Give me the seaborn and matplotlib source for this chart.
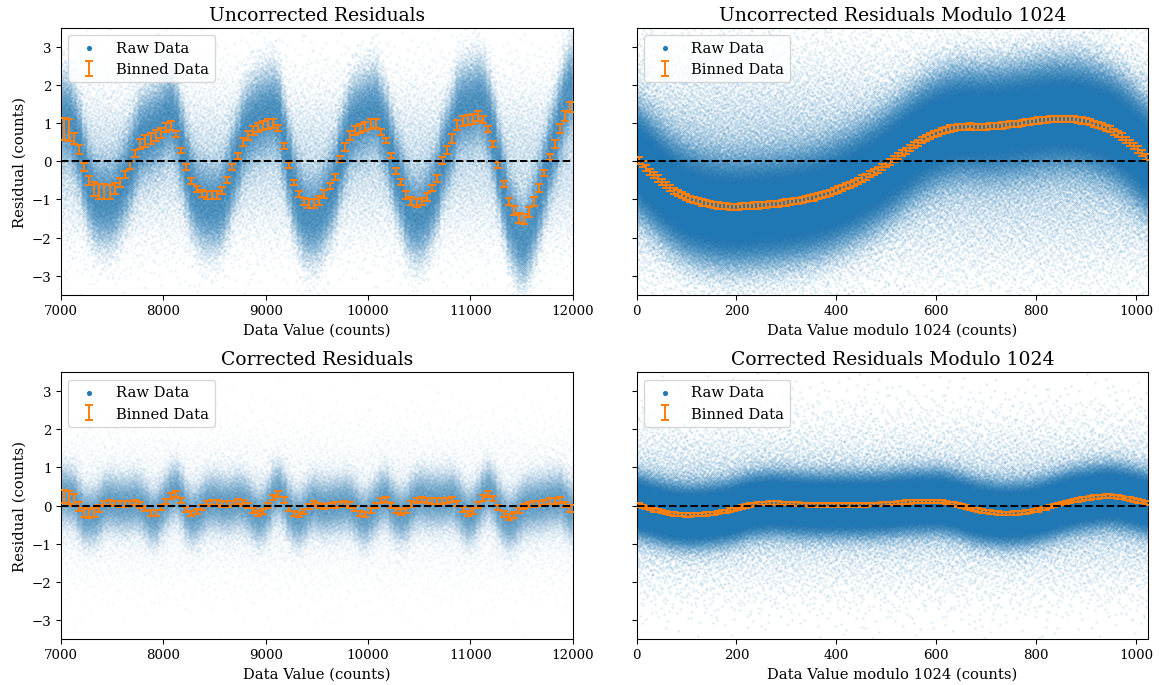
import numpy as np
import matplotlib
matplotlib.use("Agg")
import matplotlib.pyplot as plt
import seaborn as sns

# ---- binned residuals ----
# data value panels: 100 bins of 50 counts between 7000 and 12000
lin_lo, lin_hi, lin_width = 7000, 12000, 50
# modulo panels: 128 bins of 8 counts between 0 and 1024
mod_lo, mod_hi, mod_width = 0, 1024, 8

uncorr_mean = [
    0.85, 0.82, 0.60, 0.30, -0.15, -0.50, -0.72, -0.80, -0.80, -0.80,
    -0.72, -0.55, -0.35, -0.10, 0.20, 0.45, 0.53, 0.60, 0.67, 0.75,
    0.88, 0.93, 0.72, 0.29, -0.15, -0.52, -0.72, -0.84, -0.88, -0.89,
    -0.88, -0.76, -0.50, -0.15, 0.15, 0.50, 0.68, 0.80, 0.88, 0.93,
    0.98, 1.00, 0.88, 0.40, -0.10, -0.55, -0.85, -1.05, -1.10, -1.10,
    -1.02, -0.85, -0.65, -0.40, 0.05, 0.38, 0.68, 0.80, 0.87, 0.92,
    0.98, 1.00, 0.78, 0.55, 0.15, -0.25, -0.55, -0.88, -1.04, -1.10,
    -1.05, -0.93, -0.70, -0.45, 0.02, 0.30, 0.60, 0.95, 1.05, 1.08,
    1.12, 1.18, 1.10, 0.85, 0.45, -0.10, -0.60, -1.05, -1.28, -1.48,
    -1.52, -1.32, -1.05, -0.70, -0.30, 0.12, 0.45, 0.85, 1.20, 1.42]
uncorr_err = [
    0.28, 0.28, 0.15, 0.12, 0.10, 0.12, 0.18, 0.20, 0.20, 0.18,
    0.15, 0.12, 0.10, 0.10, 0.10, 0.14, 0.15, 0.15, 0.14, 0.13,
    0.12, 0.12, 0.07, 0.07, 0.07, 0.08, 0.08, 0.10, 0.10, 0.10,
    0.10, 0.09, 0.08, 0.07, 0.08, 0.10, 0.12, 0.12, 0.12, 0.12,
    0.12, 0.12, 0.08, 0.07, 0.07, 0.07, 0.08, 0.10, 0.12, 0.12,
    0.12, 0.10, 0.08, 0.08, 0.08, 0.10, 0.12, 0.12, 0.12, 0.12,
    0.12, 0.12, 0.08, 0.07, 0.07, 0.07, 0.08, 0.10, 0.10, 0.10,
    0.10, 0.10, 0.08, 0.08, 0.08, 0.10, 0.12, 0.13, 0.13, 0.13,
    0.13, 0.13, 0.10, 0.07, 0.07, 0.07, 0.08, 0.10, 0.12, 0.13,
    0.13, 0.13, 0.12, 0.10, 0.08, 0.08, 0.10, 0.12, 0.13, 0.13]

corr_mean = [
    0.23, 0.20, 0.15, -0.03, -0.19, -0.20, -0.18, -0.08, 0.05, 0.08,
    0.06, 0.04, 0.04, 0.05, 0.08, 0.02, -0.08, -0.20, -0.20, -0.05,
    0.10, 0.25, 0.30, 0.14, -0.10, -0.20, -0.15, -0.05, 0.06, 0.08,
    0.08, 0.04, 0.04, 0.06, 0.10, 0.07, 0.00, -0.12, -0.20, -0.15,
    0.00, 0.22, 0.30, 0.15, -0.07, -0.20, -0.24, -0.15, -0.02, 0.05,
    0.00, -0.02, 0.00, 0.02, 0.03, 0.06, 0.02, -0.08, -0.20, -0.23,
    -0.12, 0.00, 0.13, 0.16, 0.00, -0.12, -0.17, -0.12, 0.04, 0.14,
    0.16, 0.13, 0.12, 0.12, 0.12, 0.14, 0.16, 0.05, -0.10, -0.20,
    -0.14, 0.02, 0.20, 0.30, 0.18, -0.05, -0.22, -0.30, -0.25, -0.12,
    -0.02, 0.03, 0.04, 0.06, 0.08, 0.12, 0.12, 0.15, 0.03, -0.08]
corr_err = [
    0.17, 0.17, 0.15, 0.12, 0.12, 0.12, 0.12, 0.10, 0.07, 0.07,
    0.07, 0.07, 0.07, 0.07, 0.07, 0.07, 0.07, 0.08, 0.08, 0.07,
    0.07, 0.07, 0.07, 0.07, 0.07, 0.07, 0.07, 0.07, 0.07, 0.07,
    0.07, 0.07, 0.07, 0.07, 0.07, 0.07, 0.07, 0.07, 0.07, 0.07,
    0.07, 0.07, 0.07, 0.07, 0.07, 0.07, 0.07, 0.07, 0.07, 0.07,
    0.07, 0.07, 0.07, 0.07, 0.07, 0.07, 0.07, 0.07, 0.07, 0.07,
    0.07, 0.07, 0.07, 0.07, 0.07, 0.07, 0.07, 0.07, 0.07, 0.07,
    0.07, 0.07, 0.07, 0.07, 0.07, 0.07, 0.07, 0.07, 0.07, 0.07,
    0.07, 0.07, 0.07, 0.07, 0.07, 0.07, 0.07, 0.07, 0.07, 0.07,
    0.07, 0.07, 0.07, 0.07, 0.07, 0.07, 0.07, 0.07, 0.07, 0.09]

uncorr_mod_mean = [
    0.02, -0.08, -0.17, -0.27, -0.36, -0.45, -0.54, -0.62,
    -0.70, -0.77, -0.83, -0.89, -0.94, -0.98, -1.02, -1.05,
    -1.08, -1.10, -1.12, -1.14, -1.16, -1.17, -1.18, -1.19,
    -1.19, -1.19, -1.18, -1.18, -1.17, -1.16, -1.16, -1.15,
    -1.14, -1.13, -1.12, -1.11, -1.10, -1.08, -1.07, -1.05,
    -1.04, -1.02, -1.00, -0.97, -0.95, -0.92, -0.89, -0.86,
    -0.82, -0.78, -0.74, -0.70, -0.65, -0.61, -0.56, -0.51,
    -0.45, -0.40, -0.34, -0.28, -0.22, -0.15, -0.08, -0.01,
    0.06, 0.13, 0.21, 0.28, 0.35, 0.42, 0.49, 0.55,
    0.61, 0.66, 0.71, 0.75, 0.79, 0.83, 0.86, 0.88,
    0.90, 0.91, 0.91, 0.92, 0.91, 0.91, 0.90, 0.91,
    0.92, 0.92, 0.93, 0.94, 0.95, 0.97, 0.98, 0.99,
    1.01, 1.02, 1.04, 1.05, 1.07, 1.08, 1.09, 1.10,
    1.11, 1.11, 1.11, 1.11, 1.10, 1.10, 1.09, 1.07,
    1.05, 1.02, 0.99, 0.96, 0.92, 0.88, 0.84, 0.78,
    0.72, 0.65, 0.57, 0.49, 0.40, 0.31, 0.22, 0.12]
uncorr_mod_err = 0.08

corr_mod_mean = [
    0.01, -0.02, -0.05, -0.08, -0.11, -0.13, -0.16, -0.18,
    -0.20, -0.22, -0.23, -0.24, -0.25, -0.25, -0.24, -0.24,
    -0.23, -0.22, -0.21, -0.20, -0.18, -0.16, -0.15, -0.12,
    -0.10, -0.07, -0.04, -0.01, 0.01, 0.03, 0.04, 0.05,
    0.06, 0.07, 0.07, 0.07, 0.06, 0.05, 0.05, 0.04,
    0.04, 0.03, 0.03, 0.02, 0.02, 0.02, 0.02, 0.02,
    0.02, 0.02, 0.02, 0.02, 0.02, 0.02, 0.02, 0.02,
    0.02, 0.02, 0.03, 0.03, 0.03, 0.04, 0.04, 0.05,
    0.06, 0.07, 0.08, 0.09, 0.09, 0.10, 0.10, 0.11,
    0.11, 0.11, 0.11, 0.11, 0.10, 0.08, 0.06, 0.04,
    0.02, -0.01, -0.04, -0.07, -0.10, -0.12, -0.14, -0.16,
    -0.17, -0.18, -0.19, -0.20, -0.20, -0.20, -0.19, -0.19,
    -0.18, -0.17, -0.15, -0.13, -0.11, -0.08, -0.06, -0.03,
    0.00, 0.03, 0.06, 0.08, 0.11, 0.13, 0.15, 0.17,
    0.19, 0.20, 0.22, 0.23, 0.24, 0.25, 0.25, 0.24,
    0.23, 0.21, 0.19, 0.17, 0.15, 0.12, 0.10, 0.07]
corr_mod_err = 0.045

# raw cloud as read: count, share in the core band, core offset, core and halo spread
cloud_uncorr = (120000, 0.78, 1.35, 0.62, 1.10)
cloud_uncorr_mod = (300000, 0.88, 1.12, 0.70, 1.50)
cloud_corr = (90000, 0.85, 1.30, 0.40, 0.95)
cloud_corr_mod = (250000, 0.90, 1.10, 0.38, 1.10)

titles = ["Uncorrected Residuals", "Uncorrected Residuals Modulo 1024",
          "Corrected Residuals", "Corrected Residuals Modulo 1024"]
xlabels = ["Data Value (counts)", "Data Value modulo 1024 (counts)"]


def normal_quantile(u):
    grid = np.linspace(-5, 5, 4001)
    cdf = np.cumsum(np.exp(-grid ** 2 / 2))
    cdf /= cdf[-1]
    return np.interp(u, cdf, grid)


def halton(j, base):
    out = np.zeros(len(j))
    f = 1.0 / base
    i = j.copy()
    while np.any(i > 0):
        out += f * (i % base)
        i //= base
        f /= base
    return out


def raw_cloud(mean, lo, hi, width, params):
    # deterministic (Halton) fill of the band seen in each bin
    n, share, offset, core_sd, halo_sd = params
    mean = np.asarray(mean)
    j = np.arange(1, n + 1)
    px = halton(j, 2)
    pu = halton(j, 3)
    pw = halton(j, 5)
    x = lo + (hi - lo) * px
    b = np.minimum(((x - lo) / width).astype(int), len(mean) - 1)
    z = normal_quantile(np.clip(pu, 1e-4, 1 - 1e-4))
    y = np.where(pw < share, offset * mean[b] + core_sd * z, halo_sd * z)
    return x, y


plt.rcParams["font.family"] = ["DejaVu Serif"]
plt.rcParams["mathtext.fontset"] = "dejavuserif"

fig, axs = plt.subplots(2, 2, figsize=(12, 7.096), dpi=96.667, sharey=True)
fig.subplots_adjust(left=0.0526, right=0.9897, top=0.958, bottom=0.067,
                    hspace=0.29, wspace=0.125)

panels = [
    (axs[0, 0], uncorr_mean, uncorr_err, lin_lo, lin_hi, lin_width, cloud_uncorr, 0.10),
    (axs[0, 1], uncorr_mod_mean, uncorr_mod_err, mod_lo, mod_hi, mod_width, cloud_uncorr_mod, 0.15),
    (axs[1, 0], corr_mean, corr_err, lin_lo, lin_hi, lin_width, cloud_corr, 0.06),
    (axs[1, 1], corr_mod_mean, corr_mod_err, mod_lo, mod_hi, mod_width, cloud_corr_mod, 0.15),
]

for k, (ax, mean, err, lo, hi, width, cloud, alpha) in enumerate(panels):
    xr, yr = raw_cloud(mean, lo, hi, width, cloud)
    sns.scatterplot(x=xr, y=yr, ax=ax, s=3, alpha=alpha, linewidth=0,
                    color="C0", label="Raw Data", legend=False)
    centres = lo + width / 2 + width * np.arange(len(mean))
    ax.errorbar(centres, mean, yerr=err, fmt="none", ecolor="C1",
                elinewidth=1.5, capsize=3, capthick=1.5,
                label="Binned Data", zorder=3)
    ax.axhline(0, color="k", ls="--", lw=1.5, zorder=4)
    ax.set_xlim(lo, hi)
    ax.set_ylim(-3.5, 3.5)
    ax.set_yticks([-3, -2, -1, 0, 1, 2, 3])
    ax.set_title(titles[k], fontsize=14)
    ax.set_xlabel(xlabels[k % 2], fontsize=11)
    ax.set_ylabel("Residual (counts)", fontsize=11)
    ax.tick_params(labelsize=10)
    leg = ax.legend(loc="upper left", fontsize=11, markerscale=2.2)
    for h in leg.legend_handles:
        h.set_alpha(1)

fig.savefig("out.png", dpi=fig.dpi)
